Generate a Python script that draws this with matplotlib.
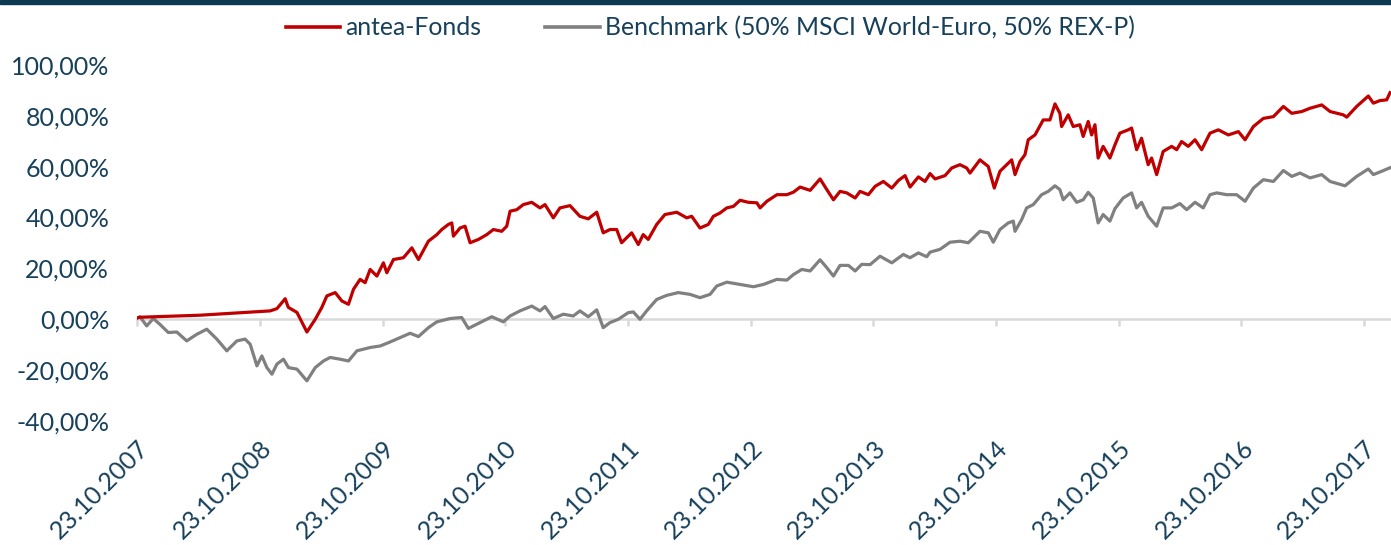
import matplotlib
matplotlib.use("Agg")
import matplotlib.pyplot as plt
import matplotlib.dates as mdates
from matplotlib.patches import Rectangle
from matplotlib.lines import Line2D
from datetime import datetime

# ---------------- data (decimal years, performance in %) ----------------
fund_years = [2007.808, 2007.832, 2008.320, 2008.650, 2008.892, 2008.947, 2009.014, 2009.039,
              2009.110, 2009.191, 2009.259, 2009.313, 2009.354, 2009.422, 2009.476, 2009.530,
              2009.571, 2009.625, 2009.666, 2009.707, 2009.762, 2009.815, 2009.843, 2009.897,
              2009.978, 2010.047, 2010.101, 2010.182, 2010.251, 2010.291, 2010.345, 2010.373,
              2010.386, 2010.440, 2010.481, 2010.522, 2010.590, 2010.658, 2010.712, 2010.780,
              2010.821, 2010.848, 2010.903, 2010.956, 2011.025, 2011.092, 2011.133, 2011.201,
              2011.255, 2011.337, 2011.418, 2011.486, 2011.555, 2011.608, 2011.663, 2011.718,
              2011.758, 2011.812, 2011.840, 2011.894, 2011.934, 2011.975, 2012.044, 2012.111,
              2012.207, 2012.288, 2012.329, 2012.396, 2012.464, 2012.505, 2012.559, 2012.614,
              2012.668, 2012.722, 2012.790, 2012.859, 2012.885, 2012.940, 2013.022, 2013.103,
              2013.157, 2013.211, 2013.293, 2013.374, 2013.429, 2013.483, 2013.537, 2013.592,
              2013.660, 2013.700, 2013.768, 2013.823, 2013.890, 2013.959, 2014.013, 2014.067,
              2014.108, 2014.176, 2014.230, 2014.271, 2014.312, 2014.393, 2014.448, 2014.515,
              2014.570, 2014.597, 2014.678, 2014.746, 2014.795, 2014.841, 2014.896, 2014.937,
              2014.964, 2015.005, 2015.045, 2015.072, 2015.127, 2015.194, 2015.249, 2015.290,
              2015.330, 2015.344, 2015.398, 2015.439, 2015.493, 2015.520, 2015.561, 2015.589,
              2015.616, 2015.642, 2015.683, 2015.738, 2015.779, 2015.819, 2015.887, 2015.915,
              2015.956, 2015.996, 2016.050, 2016.078, 2016.119, 2016.172, 2016.241, 2016.282,
              2016.322, 2016.376, 2016.431, 2016.485, 2016.553, 2016.621, 2016.702, 2016.784,
              2016.838, 2016.906, 2016.987, 2017.069, 2017.150, 2017.219, 2017.300, 2017.368,
              2017.463, 2017.531, 2017.639, 2017.667, 2017.748, 2017.843, 2017.884, 2017.938,
              2017.993, 2018.020]
fund_pct = [0.5, 0.8, 1.6, 2.6, 3.3, 4.2, 8.1, 4.7,
            2.7, -5.0, 0.0, 4.7, 9.2, 10.5, 7.2, 5.9,
            11.8, 15.7, 14.4, 19.6, 17.0, 22.2, 18.3, 23.5,
            24.2, 28.1, 23.5, 30.7, 33.3, 35.3, 37.3, 37.9,
            32.7, 35.9, 36.6, 30.1, 31.4, 33.3, 35.3, 34.6,
            36.6, 42.5, 43.1, 45.1, 46.0, 43.8, 45.1, 39.9,
            43.8, 44.7, 40.5, 39.5, 42.1, 34.0, 35.3, 35.3,
            30.1, 32.7, 34.0, 29.4, 33.3, 31.4, 37.3, 41.2,
            42.1, 39.9, 40.5, 35.9, 37.3, 40.5, 41.8, 43.8,
            44.4, 46.8, 46.0, 45.8, 43.8, 46.4, 49.0, 49.0,
            50.0, 52.0, 50.7, 55.2, 51.0, 47.0, 50.3, 49.7,
            47.7, 50.3, 49.0, 52.3, 54.2, 51.6, 54.6, 56.5,
            52.0, 56.0, 54.2, 57.3, 55.2, 56.5, 59.5, 60.8,
            59.5, 57.5, 62.7, 60.1, 51.6, 58.2, 60.8, 62.7,
            56.9, 62.1, 64.7, 70.6, 72.5, 78.4, 78.4, 84.7,
            81.0, 75.8, 80.4, 75.8, 76.5, 71.9, 77.8, 72.5,
            76.5, 63.4, 68.0, 63.4, 68.6, 73.2, 74.5, 75.2,
            66.7, 71.2, 60.8, 63.4, 56.9, 66.0, 68.0, 66.7,
            69.9, 68.0, 70.6, 66.7, 73.2, 74.5, 72.5, 73.8,
            70.6, 75.8, 79.0, 79.7, 83.7, 81.0, 81.7, 83.0,
            84.3, 81.7, 80.4, 79.5, 83.7, 87.8, 85.0, 86.0,
            86.3, 89.1]

bench_years = [2007.808, 2007.832, 2007.887, 2007.941, 2007.995, 2008.063, 2008.132, 2008.213,
               2008.295, 2008.376, 2008.458, 2008.539, 2008.621, 2008.688, 2008.729, 2008.784,
               2008.824, 2008.865, 2008.906, 2008.947, 2009.000, 2009.041, 2009.110, 2009.191,
               2009.259, 2009.326, 2009.381, 2009.462, 2009.530, 2009.599, 2009.707, 2009.788,
               2009.856, 2009.951, 2010.033, 2010.101, 2010.182, 2010.251, 2010.359, 2010.454,
               2010.508, 2010.603, 2010.699, 2010.793, 2010.848, 2010.929, 2011.025, 2011.092,
               2011.133, 2011.201, 2011.282, 2011.364, 2011.418, 2011.486, 2011.555, 2011.608,
               2011.663, 2011.731, 2011.812, 2011.853, 2011.908, 2011.962, 2012.044, 2012.125,
               2012.220, 2012.315, 2012.396, 2012.478, 2012.533, 2012.614, 2012.722, 2012.831,
               2012.912, 2013.022, 2013.103, 2013.157, 2013.225, 2013.293, 2013.374, 2013.429,
               2013.483, 2013.537, 2013.605, 2013.660, 2013.714, 2013.782, 2013.863, 2013.959,
               2014.053, 2014.108, 2014.176, 2014.244, 2014.271, 2014.352, 2014.434, 2014.515,
               2014.583, 2014.678, 2014.746, 2014.787, 2014.841, 2014.909, 2014.950, 2014.964,
               2015.018, 2015.059, 2015.113, 2015.181, 2015.235, 2015.290, 2015.330, 2015.357,
               2015.412, 2015.467, 2015.520, 2015.561, 2015.602, 2015.642, 2015.683, 2015.738,
               2015.779, 2015.846, 2015.915, 2015.956, 2015.996, 2016.050, 2016.119, 2016.172,
               2016.241, 2016.308, 2016.363, 2016.431, 2016.498, 2016.553, 2016.608, 2016.689,
               2016.770, 2016.838, 2016.906, 2016.987, 2017.069, 2017.150, 2017.219, 2017.286,
               2017.368, 2017.463, 2017.531, 2017.653, 2017.748, 2017.843, 2017.884, 2017.952,
               2018.020]
bench_pct = [0.5, 1.0, -2.6, 0.3, -2.0, -5.2, -5.0, -8.5,
             -5.9, -3.9, -7.8, -12.4, -8.5, -7.8, -9.8, -18.3,
             -14.4, -19.0, -21.6, -17.6, -15.7, -19.0, -19.6, -24.2,
             -19.0, -16.4, -15.0, -15.7, -16.4, -12.4, -11.1, -10.5,
             -9.2, -7.2, -5.5, -6.8, -3.3, -1.0, 0.3, 0.7,
             -3.6, -1.3, 1.0, -1.0, 1.3, 3.3, 5.2, 3.3,
             5.0, 0.3, 2.0, 1.3, 3.3, 1.0, 3.7, -3.3,
             -1.3, 0.0, 2.6, 2.9, 0.0, 3.3, 7.8, 9.4,
             10.5, 9.8, 8.5, 9.8, 13.1, 14.6, 13.7, 12.8,
             13.7, 15.7, 15.4, 17.6, 19.6, 19.0, 23.4, 20.3,
             17.0, 21.2, 21.2, 19.0, 21.6, 21.5, 24.8, 22.2,
             25.5, 24.2, 26.1, 24.6, 26.4, 27.5, 30.3, 30.7,
             30.1, 34.6, 34.0, 30.3, 35.3, 37.9, 38.6, 34.6,
             39.2, 43.8, 45.1, 49.0, 50.3, 52.5, 51.0, 47.0,
             49.7, 46.0, 47.0, 49.9, 47.7, 37.9, 41.2, 38.6,
             43.5, 47.7, 49.7, 43.8, 46.0, 40.5, 36.6, 43.8,
             43.8, 45.5, 43.1, 46.0, 43.8, 49.0, 49.7, 49.0,
             49.0, 46.4, 51.6, 54.9, 54.2, 58.5, 56.2, 57.5,
             55.6, 56.9, 54.2, 52.5, 56.2, 59.1, 56.9, 58.2,
             59.6]

tick_years = [2007, 2008, 2009, 2010, 2011, 2012, 2013, 2014, 2015, 2016, 2017]
y_ticks = [-40, -20, 0, 20, 40, 60, 80, 100]
series_names = ["antea-Fonds", "Benchmark (50% MSCI World-Euro, 50% REX-P)"]

# ---------------- helpers ----------------
def dec_to_num(t):
    y = int(t)
    a = datetime(y, 1, 1)
    b = datetime(y + 1, 1, 1)
    return mdates.date2num(a + (b - a) * (t - y))

TXT = "#17405a"
RED = "#c00000"
GREY = "#808080"
FS = 18
plt.rcParams["font.family"] = ["Lato", "DejaVu Sans"]

W, H = 1391, 545
fig = plt.figure(figsize=(W / 100, H / 100), dpi=100)
fig.patch.set_facecolor("white")

left, right, top, bottom = 137, 1391, 65, 421
ax = fig.add_axes([left / W, 1 - bottom / H, (right - left) / W, (bottom - top) / H])

fx = [dec_to_num(t) for t in fund_years]
bx = [dec_to_num(t) for t in bench_years]
ax.plot(bx, bench_pct, color=GREY, lw=2.3, solid_joinstyle="round", zorder=3)
ax.plot(fx, fund_pct, color=RED, lw=2.3, solid_joinstyle="round", zorder=4)

ax.set_ylim(-40, 100)
ax.set_xlim(dec_to_num(2007.808), dec_to_num(2018.028))
ax.set_yticks(y_ticks)
ax.set_yticklabels([f"{v},00%" for v in y_ticks], color=TXT, fontsize=FS)
ax.tick_params(axis="y", length=0, pad=20)

for s in ["top", "right", "left"]:
    ax.spines[s].set_visible(False)
ax.spines["bottom"].set_position(("data", 0))
ax.spines["bottom"].set_color("#d9d9d9")
ax.spines["bottom"].set_linewidth(1.8)
ax.spines["bottom"].set_zorder(1)

tick_pos = [mdates.date2num(datetime(y, 10, 23)) for y in tick_years]
ax.set_xticks(tick_pos)
ax.tick_params(axis="x", length=5, width=1.8, color="#d9d9d9", direction="out", labelbottom=False)

sec = ax.secondary_xaxis(0.0)
sec.set_xticks(tick_pos)
sec.set_xticklabels([f"23.10.{y}" for y in tick_years], rotation=45, ha="right",
                    rotation_mode="anchor", color=TXT, fontsize=FS)
sec.tick_params(axis="x", length=0, pad=11)
sec.spines["bottom"].set_visible(False)

# legend
handles = [Line2D([], [], color=RED, lw=2.6), Line2D([], [], color=GREY, lw=2.6)]
leg = fig.legend(handles, series_names, loc="upper center", ncol=2, frameon=False,
                 bbox_to_anchor=(710 / W, 1 - 16 / H), fontsize=17.8, handlelength=2.2,
                 handletextpad=0.2, columnspacing=2.6, borderaxespad=0, borderpad=0)
for t in leg.get_texts():
    t.set_color(TXT)

# top dark band
fig.add_artist(Rectangle((0, 1 - 4 / H), 1, 4 / H, transform=fig.transFigure,
                         color="#0b3a52", zorder=10))

fig.savefig("out.png", dpi=100, facecolor="white")
